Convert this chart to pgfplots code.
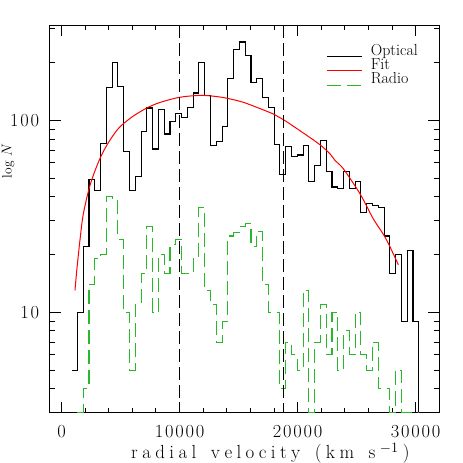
\documentclass[border=0pt]{standalone}
\usepackage{fontspec}
\usepackage{pgfplots}
\pgfplotsset{compat=1.18}
\definecolor{radiogreen}{RGB}{40,185,40}
\newcommand\D{\kern1.8bp}
\newcommand\K{\kern4.4bp}
\begin{document}
\begin{tikzpicture}
\begin{axis}[
  scale only axis,
  width=389.6bp, height=387.4bp,
  ymode=log,
  xmin=-1000, xmax=32000,
  ymin=3, ymax=313,
  scaled x ticks=false,
  xtick={0,10000,20000,30000},
  xticklabels={0,1\D0\D0\D0\D0,2\D0\D0\D0\D0,3\D0\D0\D0\D0},
  minor xtick={2000,4000,6000,8000,12000,14000,16000,18000,22000,24000,26000,28000},
  ytick={10,100},
  yticklabels={1\D0,1\D0\D0},
  minor ytick={3,4,5,6,7,8,9,20,30,40,50,60,70,80,90,200,300},
  tick align=inside,
  major tick length=11bp,
  minor tick length=5bp,
  every tick/.style={black, line width=1bp},
  axis line style={line width=1.1bp},
  tick label style={font=\fontsize{18.5}{20}\selectfont},
  xticklabel style={inner sep=0pt, anchor=north, yshift=-12.8bp},
  yticklabel style={inner sep=0pt, anchor=east, xshift=-10.4bp},
  xlabel={r\K a\K d\K i\K a\K l\K\ \K v\K e\K l\K o\K c\K i\K t\K y\K\ \K(\K k\K m\K\ \K s\K$^{-1}$\K)},
  xlabel style={at={(axis description cs:0.2087,-0.1177)}, anchor=base west, inner sep=0pt, font=\fontsize{19}{21}\selectfont},
  extra description/.code={
    \node[rotate=90, anchor=base west, inner sep=0pt, font=\fontsize{13.5}{15}\selectfont]
      at (axis description cs:-0.098,0.605) {log $N$};
  },
  legend style={draw=none, fill=none, at={(axis description cs:0.7092,0.9525)}, anchor=north west, inner sep=0pt,
    font=\fontsize{16}{17}\selectfont, nodes={inner sep=0.9bp, text height=10.5bp, text depth=2bp}, row sep=0pt,
    /tikz/every odd column/.append style={column sep=7.5bp}},
  legend cell align=left,
  legend image code/.code={\draw[#1, line width=1.2bp] (0bp,-5.5bp) -- (35bp,-5.5bp);},
]
\addplot[const plot, black, line width=1.1bp] coordinates {
(860,5) (1350,10) (1840,22) (2330,49) (2820,43) (3310,76) (3800,149) (4290,200) (4780,150) (5270,69)
(5760,43) (6250,51) (6740,88) (7230,116) (7720,71) (8210,114) (8700,85) (9190,99) (9680,109) (10170,104)
(10660,117) (11150,139) (11640,200) (12130,135) (12620,74) (13110,78) (13600,93) (14090,165) (14580,234) (15070,256)
(15560,218) (16050,157) (16540,165) (17030,131) (17520,117) (18010,75) (18500,52) (18990,73) (19480,65) (19970,66)
(20460,74) (20950,48) (21440,58) (21930,79) (22420,54) (22910,45) (23400,44) (23890,54) (24380,44) (24870,48)
(25360,33) (25850,37) (26340,36) (26830,35) (27320,25) (27810,16) (28300,20) (28790,9) (29280,21) (29770,9)
(30260,1)
};
\addlegendentry{Optical}
\addplot[red, line width=1bp, smooth] coordinates {
(1140,13.0) (1300,16.7) (1570,24) (1850,32.6) (2410,45.8) (3120,60.5) (3830,74.1) (4810,90.6) (5950,104)
(7220,116) (8340,124) (10030,132) (11880,135) (13570,132) (15120,125.7) (15970,120.7) (17940,108) (18790,101)
(20770,83.6) (21900,74.6) (22740,67) (23170,61.8) (23870,56) (25280,41.5) (26410,30.7) (27260,25.5) (27770,22.3) (28530,17.7)
};
\addlegendentry{Fit}
\addplot[const plot, radiogreen, line width=1.1bp, dash pattern=on 14bp off 6bp] coordinates {
(1350,3) (1840,4) (2330,14) (2820,19) (3310,20) (3800,40) (4290,39) (4780,24) (5270,10)
(5760,5) (6250,11) (6740,16) (7230,28) (7720,10) (8210,20) (8700,16) (9190,22.5) (9680,24) (10170,16)
(10660,16) (11150,19) (11640,35) (12130,13) (12620,11) (13110,7) (13600,9) (14090,25) (14580,26) (15070,28)
(15560,29) (16050,22) (16540,26.5) (17030,14) (17520,10) (18010,10) (18500,4) (18990,7) (19480,6) (19970,5)
(20460,13) (20950,3) (21440,7) (21930,11) (22420,6) (22910,10) (23400,5) (23890,8) (24380,6) (24870,10)
(25360,6) (25850,5) (26340,7) (26830,4) (27320,4) (27810,3) (28300,5) (28790,3) (29280,3) (29770,3)
(30260,3)
};
\addlegendentry{Radio}
\addplot[black, line width=1bp, dash pattern=on 13bp off 5bp, forget plot] coordinates {(10000,313) (10000,3)};
\addplot[black, line width=1bp, dash pattern=on 13bp off 5bp, forget plot] coordinates {(18800,313) (18800,3)};
\end{axis}
\pgfresetboundingbox
\path (current axis.south west) ++(-49.7bp,-50.3bp) rectangle ++(463bp,463bp);
\end{tikzpicture}
\end{document}
